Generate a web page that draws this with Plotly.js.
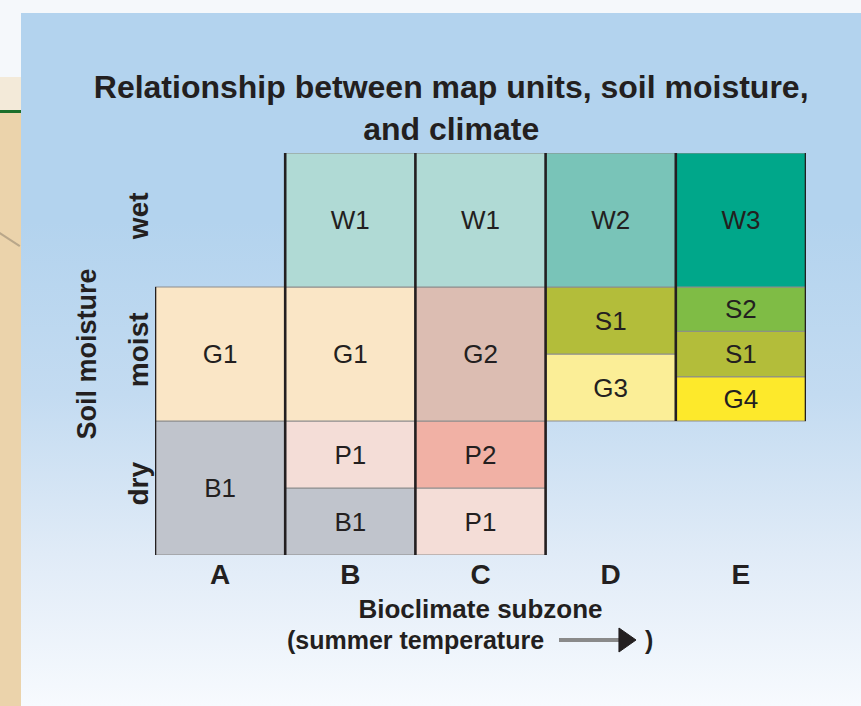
<!DOCTYPE html>
<html>
<head>
<meta charset="utf-8">
<script src="https://cdn.plot.ly/plotly-3.0.1.min.js"></script>
<style>
  html, body { margin: 0; padding: 0; background: #f5f8fb; }
  #wrap { position: relative; width: 861px; height: 706px; overflow: hidden; background: #f5f8fb; }
  #panel { position: absolute; left: 21px; top: 13px; width: 840px; height: 693px;
    background: linear-gradient(to bottom, #b3d3ee 0%, #b3d3ee 30%, #c3dbf1 55%, #e0ebf7 78%, #f7fafe 100%); }
  #stripTop { position: absolute; left: 0; top: 77px; width: 21px; height: 33px; background: #f3ead9; }
  #stripGreen { position: absolute; left: 0; top: 110px; width: 21px; height: 3px; background: #1b6e2a; }
  #stripTan { position: absolute; left: 0; top: 113px; width: 21px; height: 593px; background: #ebd3ab; overflow: hidden; }
  #diag { position: absolute; left: -2px; top: 118px; width: 26px; height: 2px; background: #b9a78a; transform: rotate(33deg); transform-origin: left center; }
  #chart { position: absolute; left: 0; top: 0; width: 861px; height: 706px; }
</style>
</head>
<body>
<div id="wrap">
  <div id="panel"></div>
  <div id="stripTop"></div>
  <div id="stripGreen"></div>
  <div id="stripTan"><div id="diag"></div></div>
  <div id="chart"></div>
</div>
<script>
// ---- Data ----
const subzones = ['A', 'B', 'C', 'D', 'E'];
const moistureLevels = ['dry', 'moist', 'wet'];

const unitLabels = ['B1', 'G1', 'B1', 'P1', 'G1', 'W1', 'P1', 'P2', 'G2', 'W1', 'G3', 'S1', 'W2', 'G4', 'S1', 'S2', 'W3'];
const unitZone   = ['A',  'A',  'B',  'B',  'B',  'B',  'C',  'C',  'C',  'C',  'D',  'D',  'D',  'E',  'E',  'E',  'E'];
const unitBottom = [0,    1,    0,    0.5,  1,    2,    0,    0.5,  1,    2,    1,    1.5,  2,    1,    1.33, 1.67, 2];
const unitTop    = [1,    2,    0.5,  1,    2,    3,    0.5,  1,    2,    3,    1.5,  2,    3,    1.33, 1.67, 2,    3];

// ---- Styles ----
const unitColor = {
  B1: '#c0c4cc', G1: '#fae6c6', P1: '#f4ddd7', W1: '#b0dad5', P2: '#f1b1a5', G2: '#dcbdb2',
  G3: '#fbee97', S1: '#b3bd3a', W2: '#79c4b8', G4: '#fde92b', S2: '#7fbc45', W3: '#00a78a'
};
const FONT = 'Liberation Sans, Arial, Helvetica, sans-serif';
const INK = '#231f20';

const zoneIndex = unitZone.map(z => subzones.indexOf(z));

const cells = {
  type: 'bar',
  x: zoneIndex,
  base: unitBottom,
  y: unitTop.map((t, i) => t - unitBottom[i]),
  width: 1,
  text: unitLabels,
  textposition: 'inside',
  insidetextanchor: 'middle',
  textangle: 0,
  constraintext: 'none',
  textfont: { family: FONT, size: 26, color: INK },
  marker: { color: unitLabels.map(u => unitColor[u]), line: { color: '#8c8c8c', width: 1 } },
  hoverinfo: 'skip',
  cliponaxis: false,
  showlegend: false
};

// vertical separators between subzones, spanning the neighbouring cells
const sepX = [], sepY = [];
for (let b = 0; b <= subzones.length; b++) {
  const idx = zoneIndex.map((z, i) => (z === b - 1 || z === b) ? i : -1).filter(i => i >= 0);
  if (!idx.length) continue;
  const lo = Math.min(...idx.map(i => unitBottom[i]));
  const hi = Math.max(...idx.map(i => unitTop[i]));
  sepX.push(b - 0.5, b - 0.5, null);
  sepY.push(lo, hi, null);
}
const separators = {
  type: 'scatter', mode: 'lines', x: sepX, y: sepY,
  line: { color: INK, width: 2.6 }, hoverinfo: 'skip', cliponaxis: false, showlegend: false
};

const layout = {
  width: 861, height: 706,
  margin: { l: 155, r: 55, t: 153, b: 151 },
  paper_bgcolor: 'rgba(0,0,0,0)',
  plot_bgcolor: 'rgba(0,0,0,0)',
  barmode: 'overlay',
  font: { family: FONT, color: INK },
  title: {
    text: 'Relationship between map units, soil moisture,<br>and climate',
    font: { family: FONT, size: 32, weight: 'bold', color: INK },
    x: 0.524, xanchor: 'center', xref: 'container',
    y: 1 - 98 / 706, yanchor: 'top', yref: 'container'
  },
  xaxis: {
    range: [-0.5, subzones.length - 0.5],
    tickvals: subzones.map((_, i) => i), ticktext: subzones,
    tickfont: { family: FONT, size: 28, weight: 'bold', color: INK },
    showgrid: false, zeroline: false, showline: false, ticks: '',
    title: { text: 'Bioclimate subzone', font: { family: FONT, size: 26, weight: 'bold', color: INK }, standoff: 10 },
    fixedrange: true
  },
  yaxis: {
    range: [0, moistureLevels.length],
    tickvals: moistureLevels.map((_, i) => i + 0.5), ticktext: moistureLevels,
    tickangle: -90,
    tickfont: { family: FONT, size: 28, weight: 'bold', color: INK },
    showgrid: false, zeroline: false, showline: false, ticks: '',
    title: { text: 'Soil moisture', font: { family: FONT, size: 27, weight: 'bold', color: INK }, standoff: 18 },
    fixedrange: true
  },
  annotations: [
    { text: '(summer temperature', xref: 'paper', yref: 'paper', x: 0.1997, y: -0.2114,
      xanchor: 'left', yanchor: 'middle', showarrow: false,
      font: { family: FONT, size: 25, weight: 'bold', color: INK } },
    { text: ')', xref: 'paper', yref: 'paper', x: 0.7496, y: -0.2114,
      xanchor: 'left', yanchor: 'middle', showarrow: false,
      font: { family: FONT, size: 25, weight: 'bold', color: INK } }
  ],
  shapes: [
    { type: 'line', xref: 'paper', yref: 'paper', x0: 0.6206, x1: 0.7143, y0: -0.2114, y1: -0.2114,
      line: { color: '#8a8a8a', width: 4 } },
    { type: 'path', xref: 'paper', yref: 'paper',
      path: 'M 0.7127 -0.1816 L 0.7389 -0.2114 L 0.7127 -0.2413 Z',
      fillcolor: INK, line: { color: INK, width: 1 } }
  ]
};

Plotly.newPlot('chart', [cells, separators], layout, { displayModeBar: false, staticPlot: true });
</script>
</body>
</html>
